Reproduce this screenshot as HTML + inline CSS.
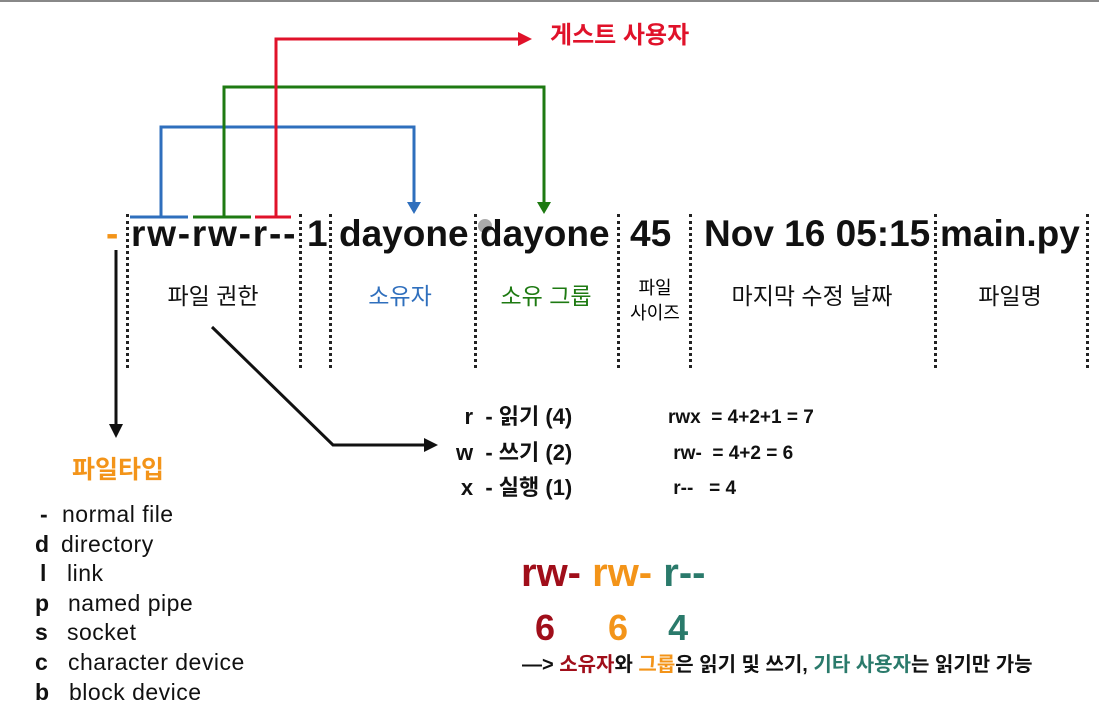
<!DOCTYPE html>
<html><head><meta charset="utf-8"><style>
body{margin:0;width:1099px;height:716px;background:#fff;overflow:hidden;position:relative;font-family:"Liberation Sans","Noto Sans CJK KR",sans-serif;}
.t{position:absolute;white-space:nowrap;line-height:1;}
.b{font-weight:bold}
.big{font-size:37px;font-weight:bold;top:215px;color:#111}
.lab{font-size:23px;top:285px;color:#111;transform:translateX(-50%)}
.d{position:absolute;top:214px;height:154px;border-left:3px dotted #222;}
</style></head><body>
<div style="position:absolute;left:0;top:0;width:1099px;height:2px;background:#888"></div>
<svg width="1099" height="716" style="position:absolute;left:0;top:0">
<g fill="none" stroke-width="3">
<path d="M130 217H188M161 217V127H414V205" stroke="#2f6fbd"/>
<path d="M193 217H251M224 217V87H544V205" stroke="#1e7a12"/>
<path d="M255 217H291M276 217V39H522" stroke="#e0122a"/>
<path d="M116 250V428" stroke="#111"/>
<path d="M212 327L333 445H428" stroke="#111"/>
</g>
<path d="M407 202L414 214L421 202z" fill="#2f6fbd"/>
<path d="M537 202L544 214L551 202z" fill="#1e7a12"/>
<path d="M518 32L532 39L518 46z" fill="#e0122a"/>
<path d="M109 424L116 438L123 424z" fill="#111"/>
<path d="M424 438L438 445L424 452z" fill="#111"/>
<circle cx="485" cy="226" r="7" fill="#aaa"/>
</svg>
<div class="d" style="left:126px"></div><div class="d" style="left:299px"></div><div class="d" style="left:329px"></div><div class="d" style="left:474px"></div><div class="d" style="left:617px"></div><div class="d" style="left:689px"></div><div class="d" style="left:934px"></div><div class="d" style="left:1086px"></div>
<div class="t b" style="left:550px;top:24px;font-size:24px;color:#e0122a">게스트 사용자</div>
<div class="t big" style="left:106px;color:#f39419">-</div>
<div class="t big" style="left:131px;letter-spacing:1.8px">rw-rw-r--</div>
<div class="t big" style="left:307px">1</div>
<div class="t big" style="left:339px">dayone</div>
<div class="t big" style="left:480px">dayone</div>
<div class="t big" style="left:630px">45</div>
<div class="t big" style="left:704px">Nov 16 05:15</div>
<div class="t big" style="left:940px">main.py</div>
<div class="t lab" style="left:213px">파일 권한</div>
<div class="t lab" style="left:400px;color:#2f6fbd">소유자</div>
<div class="t lab" style="left:546px;color:#1e7a12">소유 그룹</div>
<div class="t" style="left:655px;top:276px;font-size:18px;transform:translateX(-50%);text-align:center;line-height:1.4">파일<br>사이즈</div>
<div class="t lab" style="left:812px">마지막 수정 날짜</div>
<div class="t lab" style="left:1010px">파일명</div>
<div class="t b" style="left:72px;top:458px;font-size:25px;color:#f39419">파일타입</div>
<div class="t" style="left:35px;top:500px;font-size:23px;line-height:29.6px;color:#111;letter-spacing:0.5px">
<div><b style="display:inline-block;width:27px;padding-left:5px;box-sizing:border-box">-</b>normal file</div>
<div><b style="display:inline-block;width:26px">d</b>directory</div>
<div><b style="display:inline-block;width:32px;padding-left:5px;box-sizing:border-box">l</b>link</div>
<div><b style="display:inline-block;width:33px">p</b>named pipe</div>
<div><b style="display:inline-block;width:32px">s</b>socket</div>
<div><b style="display:inline-block;width:33px">c</b>character device</div>
<div><b style="display:inline-block;width:34px">b</b>block device</div>
</div>
<div class="t b" style="left:456px;top:399px;font-size:22px;line-height:35.5px;color:#111;text-align:right">
<div>r &nbsp;- 읽기 (4)</div><div>w &nbsp;- 쓰기 (2)</div><div>x &nbsp;- 실행 (1)</div></div>
<div class="t b" style="left:668px;top:400px;font-size:19px;line-height:35.5px;color:#111">
<div>rwx &nbsp;= 4+2+1 = 7</div><div>&nbsp;rw- &nbsp;= 4+2 = 6</div><div>&nbsp;r-- &nbsp;&nbsp;= 4</div></div>
<div class="t b" style="left:521px;top:553px;font-size:40px"><span style="color:#a00e1a">rw-</span> <span style="color:#f39419">rw-</span> <span style="color:#2a7a6b">r--</span></div>
<div class="t b" style="left:535px;top:610px;font-size:36px"><span style="color:#a00e1a">6</span><span style="color:#f39419;margin-left:53px">6</span><span style="color:#2a7a6b;margin-left:40px">4</span></div>
<div class="t b" style="left:522px;top:655px;font-size:20px;color:#111">—&gt; <span style="color:#a00e1a">소유자</span>와 <span style="color:#f39419">그룹</span>은 읽기 및 쓰기, <span style="color:#2a7a6b">기타 사용자</span>는 읽기만 가능</div>
</body></html>
